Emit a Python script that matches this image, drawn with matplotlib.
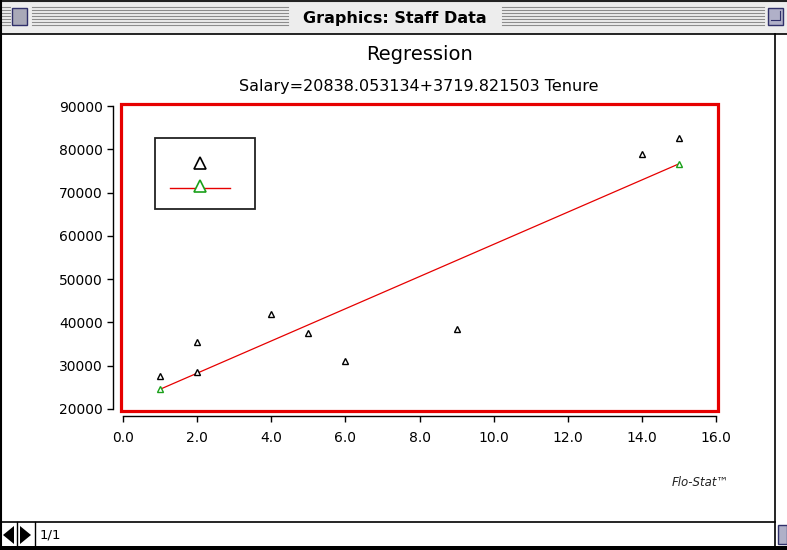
import numpy as np
import matplotlib
matplotlib.use('Agg')
from matplotlib import pyplot as plt
from matplotlib.patches import Rectangle, Polygon

# data
tenure = [1, 2, 2, 4, 5, 6, 9, 14, 15]
salary = [27600, 35500, 28500, 42000, 37500, 31000, 38500, 79000, 82500]
intercept = 20838.053134
slope = 3719.821503
fit_x = [1, 15]

xticks = [0, 2, 4, 6, 8, 10, 12, 14, 16]
yticks = [20000, 30000, 40000, 50000, 60000, 70000, 80000, 90000]

W, H = 787, 550
RED = '#e60000'

def fr(x0, y0, x1, y1):
	# pixel box (top-left origin) -> figure rect
	return [x0 / W, 1 - y1 / H, (x1 - x0) / W, (y1 - y0) / H]

fig = plt.figure(figsize=(W / 100, H / 100), dpi=100)
fig.patch.set_facecolor('white')

# window chrome, drawn in pixel space
bg = fig.add_axes([0, 0, 1, 1])
bg.set_xlim(0, W)
bg.set_ylim(H, 0)
bg.axis('off')

bg.add_patch(Rectangle((0, 0), W, 34, fc='#ededed', ec='none'))
for yy in range(7, 28, 3):
	bg.plot([32, 288], [yy, yy], color='#8c8c8c', lw=0.8)
	bg.plot([502, 764], [yy, yy], color='#8c8c8c', lw=0.8)
	bg.plot([2, 10], [yy, yy], color='#8c8c8c', lw=0.8)
bg.add_patch(Rectangle((12, 8), 15, 17, fc='#a9a9b8', ec='#30306a', lw=1))
bg.add_patch(Rectangle((768, 8), 15, 17, fc='#b0b0c8', ec='#30306a', lw=1))
bg.plot([771, 780, 780], [20, 20, 11], color='#30306a', lw=0.8)
bg.text(395, 18, 'Graphics: Staff Data', ha='center', va='center',
	fontsize=11.5, fontweight='bold', family='DejaVu Sans')

bg.plot([0, W], [0.5, 0.5], color='#222222', lw=1.5)
bg.plot([0, W], [34, 34], color='black', lw=1.2)
bg.plot([0.7, 0.7], [0, H], color='black', lw=1.5)
bg.plot([775, 775], [34, 546], color='black', lw=1.2)
bg.plot([0, 775], [522, 522], color='black', lw=1.2)
bg.add_patch(Rectangle((0, 546), W, 4, fc='black', ec='none'))

# page arrows + counter
bg.add_patch(Polygon([[3, 535], [14, 526], [14, 544]], fc='black', ec='none'))
bg.add_patch(Polygon([[31, 535], [20, 526], [20, 544]], fc='black', ec='none'))
bg.plot([17, 17], [522, 546], color='black', lw=1)
bg.plot([35, 35], [522, 546], color='black', lw=1)
bg.text(40, 535, '1/1', ha='left', va='center', fontsize=9.5)
bg.add_patch(Rectangle((778, 525), 9, 19, fc='#b0b0c8', ec='#30306a', lw=1))

bg.text(700, 483, 'Flo-Stat\u2122', ha='center', va='center', fontsize=8.5,
	style='italic', color='#222222')

# titles
bg.text(420, 54, 'Regression', ha='center', va='center', fontsize=14)
bg.text(419, 86, 'Salary=%.6f+%.6f Tenure' % (intercept, slope),
	ha='center', va='center', fontsize=11.5)

# legend box
bg.add_patch(Rectangle((155, 138), 100, 71, fc='white', ec='#222222', lw=1.3))
bg.plot([200], [163], marker='^', ms=9, mfc='white', mec='black', mew=1.2)
bg.plot([170, 230], [188, 188], color=RED, lw=1)
bg.plot([200], [186], marker='^', ms=9, mfc='white', mec='#1aa01a', mew=1.2)

# main plot
ax = fig.add_axes(fr(123, 106, 716, 409))
ax.patch.set_alpha(0)
ax.set_xlim(0, 16)
ax.set_ylim(20000, 90000)

fit_y = [intercept + slope * v for v in fit_x]
ax.plot(fit_x, fit_y, color=RED, lw=0.9, zorder=3)
ax.plot(tenure, salary, ls='none', marker='^', ms=5, mfc='white', mec='black',
	mew=1, zorder=4)
ax.plot(fit_x, fit_y, ls='none', marker='^', ms=5, mfc='white', mec='#1aa01a',
	mew=1, zorder=5)

ax.add_patch(Rectangle((-0.003, -0.006), 1.006, 1.012, transform=ax.transAxes,
	fill=False, ec=RED, lw=2.3, clip_on=False, zorder=6))

for s in ['top', 'right']:
	ax.spines[s].set_visible(False)
ax.spines['left'].set_position(('outward', 7.2))
ax.spines['bottom'].set_position(('outward', 5))
ax.spines['left'].set_linewidth(1)
ax.spines['bottom'].set_linewidth(1)

ax.set_xticks(xticks)
ax.set_xticklabels(['%.1f' % v for v in xticks])
ax.set_yticks(yticks)
ax.set_yticklabels(['%d' % v for v in yticks])
ax.tick_params(axis='y', direction='out', length=4.5, width=1, pad=3, labelsize=10)
ax.tick_params(axis='x', direction='out', length=4.5, width=1, pad=6, labelsize=10)

fig.savefig('out.png', dpi=100)
